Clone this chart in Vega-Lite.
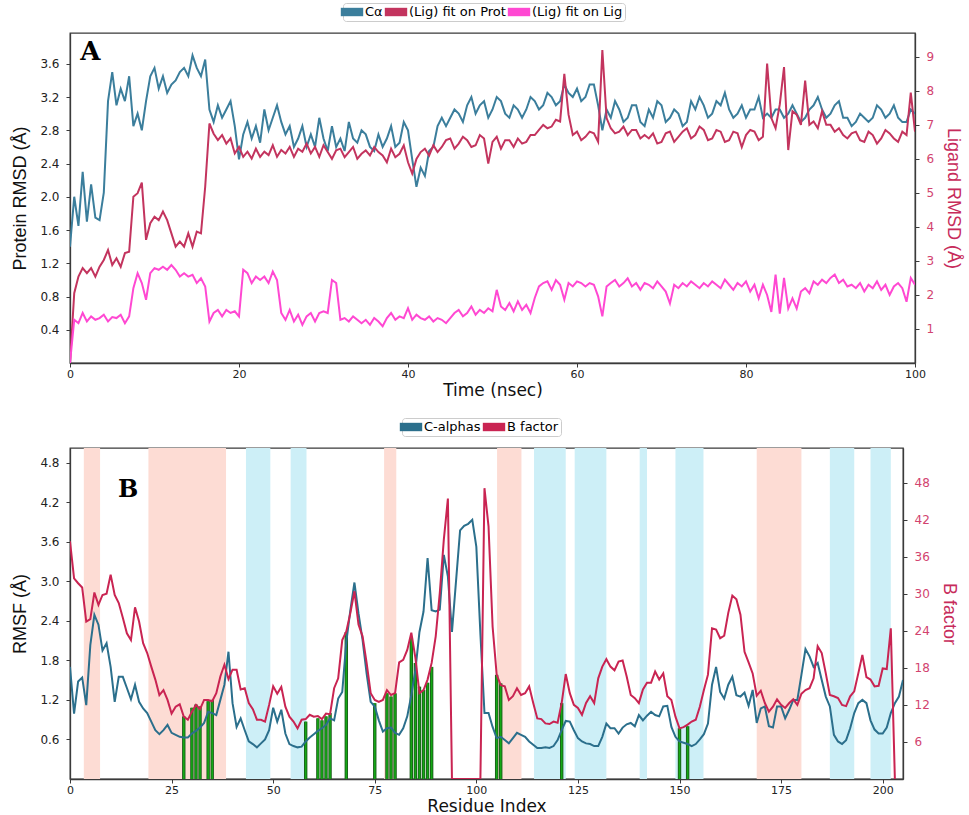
{
  "$schema": "https://vega.github.io/schema/vega-lite/v6.json",
  "background": "white",
  "padding": {"left": 11, "top": 1, "right": 5, "bottom": 0},
  "datasets": {
    "rmsd": [
      {"t":0,"ca":1.4,"lp":0,"ll":0},{"t":0.5,"ca":2.0,"lp":2.05,"ll":1.27},{"t":1,"ca":1.65,"lp":2.54,"ll":1.17},{"t":1.5,"ca":2.3,"lp":2.79,"ll":1.47},
      {"t":2,"ca":1.7,"lp":2.64,"ll":1.22},{"t":2.5,"ca":2.15,"lp":2.79,"ll":1.37},{"t":3,"ca":1.75,"lp":2.54,"ll":1.27},{"t":3.5,"ca":1.72,"lp":2.83,"ll":1.32},
      {"t":4,"ca":2.05,"lp":3.03,"ll":1.42},{"t":4.5,"ca":3.15,"lp":3.32,"ll":1.22},{"t":5,"ca":3.5,"lp":2.88,"ll":1.35},{"t":5.5,"ca":3.1,"lp":3.08,"ll":1.32},
      {"t":6,"ca":3.3,"lp":2.83,"ll":1.42},{"t":6.5,"ca":3.15,"lp":3.23,"ll":1.17},{"t":7,"ca":3.45,"lp":3.27,"ll":1.37},{"t":7.5,"ca":2.85,"lp":4.89,"ll":2.2},
      {"t":8,"ca":3.0,"lp":4.99,"ll":2.64},{"t":8.5,"ca":2.8,"lp":5.3,"ll":2.35},{"t":9,"ca":3.15,"lp":3.62,"ll":1.86},{"t":9.5,"ca":3.45,"lp":4.11,"ll":2.64},
      {"t":10,"ca":3.55,"lp":4.3,"ll":2.79},{"t":10.5,"ca":3.3,"lp":4.2,"ll":2.74},{"t":11,"ca":3.45,"lp":4.45,"ll":2.83},{"t":11.5,"ca":3.25,"lp":4.2,"ll":2.74},
      {"t":12,"ca":3.35,"lp":3.81,"ll":2.88},{"t":12.5,"ca":3.4,"lp":3.42,"ll":2.74},{"t":13,"ca":3.5,"lp":3.57,"ll":2.54},{"t":13.5,"ca":3.55,"lp":3.42,"ll":2.64},
      {"t":14,"ca":3.45,"lp":3.81,"ll":2.54},{"t":14.5,"ca":3.7,"lp":3.42,"ll":2.59},{"t":15,"ca":3.55,"lp":3.86,"ll":2.35},{"t":15.5,"ca":3.45,"lp":3.81,"ll":2.49},
      {"t":16,"ca":3.65,"lp":5.18,"ll":2.25},{"t":16.5,"ca":3.05,"lp":7.04,"ll":1.22},{"t":17,"ca":2.9,"lp":6.74,"ll":1.47},{"t":17.5,"ca":3.1,"lp":6.55,"ll":1.56},
      {"t":18,"ca":2.95,"lp":6.7,"ll":1.37},{"t":18.5,"ca":3.05,"lp":6.45,"ll":1.56},{"t":19,"ca":3.15,"lp":6.6,"ll":1.47},{"t":19.5,"ca":2.85,"lp":6.16,"ll":1.52},
      {"t":20,"ca":2.45,"lp":6.35,"ll":1.37},{"t":20.5,"ca":2.75,"lp":6.06,"ll":2.74},{"t":21,"ca":2.9,"lp":6.21,"ll":2.64},{"t":21.5,"ca":2.7,"lp":6.01,"ll":2.35},
      {"t":22,"ca":2.85,"lp":6.3,"ll":2.54},{"t":22.5,"ca":2.65,"lp":6.06,"ll":2.44},{"t":23,"ca":3.05,"lp":6.21,"ll":2.54},{"t":23.5,"ca":2.8,"lp":6.11,"ll":2.35},
      {"t":24,"ca":2.95,"lp":6.4,"ll":2.69},{"t":24.5,"ca":3.1,"lp":6.06,"ll":2.44},{"t":25,"ca":2.9,"lp":6.26,"ll":1.47},{"t":25.5,"ca":2.75,"lp":6.16,"ll":1.27},
      {"t":26,"ca":2.85,"lp":6.35,"ll":1.56},{"t":26.5,"ca":2.6,"lp":6.06,"ll":1.22},{"t":27,"ca":2.7,"lp":6.3,"ll":1.42},{"t":27.5,"ca":2.85,"lp":6.21,"ll":1.12},
      {"t":28,"ca":2.6,"lp":6.45,"ll":1.37},{"t":28.5,"ca":2.75,"lp":6.16,"ll":1.47},{"t":29,"ca":2.6,"lp":6.35,"ll":1.22},{"t":29.5,"ca":2.95,"lp":6.06,"ll":1.47},
      {"t":30,"ca":2.7,"lp":6.4,"ll":1.52},{"t":30.5,"ca":2.55,"lp":6.2,"ll":1.47},{"t":31,"ca":2.85,"lp":6.0,"ll":2.44},{"t":31.5,"ca":2.6,"lp":6.25,"ll":2.35},
      {"t":32,"ca":2.7,"lp":6.3,"ll":1.27},{"t":32.5,"ca":2.55,"lp":6.05,"ll":1.32},{"t":33,"ca":2.9,"lp":6.2,"ll":1.22},{"t":33.5,"ca":2.7,"lp":6.35,"ll":1.37},
      {"t":34,"ca":2.65,"lp":6.0,"ll":1.27},{"t":34.5,"ca":2.8,"lp":6.15,"ll":1.17},{"t":35,"ca":2.75,"lp":6.25,"ll":1.27},{"t":35.5,"ca":2.6,"lp":6.1,"ll":1.12},
      {"t":36,"ca":2.55,"lp":6.35,"ll":1.32},{"t":36.5,"ca":2.75,"lp":6.2,"ll":1.22},{"t":37,"ca":2.6,"lp":6.1,"ll":1.08},{"t":37.5,"ca":2.7,"lp":5.9,"ll":1.32},
      {"t":38,"ca":2.85,"lp":6.3,"ll":1.47},{"t":38.5,"ca":2.6,"lp":6.05,"ll":1.27},{"t":39,"ca":2.65,"lp":6.15,"ll":1.37},{"t":39.5,"ca":2.9,"lp":6.4,"ll":1.32},
      {"t":40,"ca":2.8,"lp":5.9,"ll":1.61},{"t":40.5,"ca":2.45,"lp":5.57,"ll":1.27},{"t":41,"ca":2.12,"lp":6.0,"ll":1.42},{"t":41.5,"ca":2.35,"lp":6.2,"ll":1.32},
      {"t":42,"ca":2.25,"lp":6.3,"ll":1.27},{"t":42.5,"ca":2.55,"lp":6.1,"ll":1.37},{"t":43,"ca":2.6,"lp":6.4,"ll":1.22},{"t":43.5,"ca":2.85,"lp":6.2,"ll":1.32},
      {"t":44,"ca":2.95,"lp":6.35,"ll":1.27},{"t":44.5,"ca":2.85,"lp":6.55,"ll":1.17},{"t":45,"ca":2.95,"lp":6.6,"ll":1.32},{"t":45.5,"ca":3.05,"lp":6.3,"ll":1.47},
      {"t":46,"ca":3.0,"lp":6.45,"ll":1.56},{"t":46.5,"ca":2.9,"lp":6.65,"ll":1.37},{"t":47,"ca":3.1,"lp":6.55,"ll":1.47},{"t":47.5,"ca":3.2,"lp":6.35,"ll":1.66},
      {"t":48,"ca":3.0,"lp":6.4,"ll":1.42},{"t":48.5,"ca":3.1,"lp":6.7,"ll":1.56},{"t":49,"ca":3.15,"lp":6.6,"ll":1.47},{"t":49.5,"ca":2.95,"lp":5.86,"ll":1.61},
      {"t":50,"ca":3.05,"lp":6.5,"ll":1.52},{"t":50.5,"ca":3.2,"lp":6.65,"ll":2.15},{"t":51,"ca":3.15,"lp":6.3,"ll":1.66},{"t":51.5,"ca":3.0,"lp":6.55,"ll":1.56},
      {"t":52,"ca":2.95,"lp":6.55,"ll":1.76},{"t":52.5,"ca":3.1,"lp":6.35,"ll":1.52},{"t":53,"ca":3.05,"lp":6.6,"ll":1.81},{"t":53.5,"ca":2.95,"lp":6.45,"ll":1.56},
      {"t":54,"ca":3.05,"lp":6.5,"ll":1.71},{"t":54.5,"ca":3.2,"lp":6.7,"ll":1.47},{"t":55,"ca":3.15,"lp":6.7,"ll":1.91},{"t":55.5,"ca":3.05,"lp":6.85,"ll":2.25},
      {"t":56,"ca":3.1,"lp":7.0,"ll":2.35},{"t":56.5,"ca":3.25,"lp":6.9,"ll":2.4},{"t":57,"ca":3.2,"lp":6.95,"ll":2.15},{"t":57.5,"ca":3.1,"lp":7.15,"ll":2.44},
      {"t":58,"ca":3.15,"lp":7.1,"ll":2.3},{"t":58.5,"ca":3.35,"lp":8.5,"ll":1.86},{"t":59,"ca":3.25,"lp":7.3,"ll":2.35},{"t":59.5,"ca":3.2,"lp":6.7,"ll":2.25},
      {"t":60,"ca":3.3,"lp":6.8,"ll":2.4},{"t":60.5,"ca":3.15,"lp":6.55,"ll":2.35},{"t":61,"ca":3.2,"lp":6.65,"ll":2.25},{"t":61.5,"ca":3.35,"lp":6.8,"ll":2.35},
      {"t":62,"ca":3.35,"lp":6.75,"ll":2.3},{"t":62.5,"ca":3.1,"lp":6.5,"ll":1.96},{"t":63,"ca":2.8,"lp":9.2,"ll":1.37},{"t":63.5,"ca":3.05,"lp":7.2,"ll":2.25},
      {"t":64,"ca":2.95,"lp":6.9,"ll":2.35},{"t":64.5,"ca":3.15,"lp":6.75,"ll":2.44},{"t":65,"ca":3.05,"lp":6.8,"ll":2.25},{"t":65.5,"ca":2.9,"lp":6.95,"ll":2.35},
      {"t":66,"ca":2.95,"lp":6.7,"ll":2.49},{"t":66.5,"ca":3.1,"lp":6.85,"ll":2.25},{"t":67,"ca":3.1,"lp":6.85,"ll":2.35},{"t":67.5,"ca":2.9,"lp":6.6,"ll":2.15},
      {"t":68,"ca":2.85,"lp":6.7,"ll":2.35},{"t":68.5,"ca":3.05,"lp":6.6,"ll":2.3},{"t":69,"ca":2.95,"lp":6.75,"ll":2.2},{"t":69.5,"ca":3.15,"lp":6.45,"ll":2.4},
      {"t":70,"ca":3.1,"lp":6.5,"ll":2.25},{"t":70.5,"ca":2.9,"lp":6.75,"ll":2.1},{"t":71,"ca":2.95,"lp":6.8,"ll":1.75},{"t":71.5,"ca":3.05,"lp":6.5,"ll":2.3},
      {"t":72,"ca":3.0,"lp":6.65,"ll":2.2},{"t":72.5,"ca":2.85,"lp":6.8,"ll":2.35},{"t":73,"ca":2.9,"lp":6.9,"ll":2.25},{"t":73.5,"ca":3.15,"lp":6.6,"ll":2.4},
      {"t":74,"ca":3.05,"lp":6.7,"ll":2.3},{"t":74.5,"ca":3.2,"lp":6.95,"ll":2.2},{"t":75,"ca":3.1,"lp":6.85,"ll":2.35},{"t":75.5,"ca":2.95,"lp":6.55,"ll":2.25},
      {"t":76,"ca":3.0,"lp":6.6,"ll":2.4},{"t":76.5,"ca":3.15,"lp":6.85,"ll":2.3},{"t":77,"ca":3.1,"lp":6.8,"ll":2.2},{"t":77.5,"ca":3.25,"lp":6.5,"ll":2.45},
      {"t":78,"ca":3.05,"lp":6.55,"ll":2.3},{"t":78.5,"ca":2.95,"lp":6.8,"ll":2.15},{"t":79,"ca":3.0,"lp":6.75,"ll":2.35},{"t":79.5,"ca":3.1,"lp":6.35,"ll":2.25},
      {"t":80,"ca":2.95,"lp":6.7,"ll":2.4},{"t":80.5,"ca":3.05,"lp":6.85,"ll":2.1},{"t":81,"ca":3.05,"lp":6.8,"ll":2.3},{"t":81.5,"ca":3.2,"lp":6.55,"ll":1.9},
      {"t":82,"ca":2.95,"lp":6.65,"ll":2.3},{"t":82.5,"ca":3.0,"lp":8.8,"ll":2.0},{"t":83,"ca":2.95,"lp":7.2,"ll":1.5},{"t":83.5,"ca":3.05,"lp":6.9,"ll":2.6},
      {"t":84,"ca":3.05,"lp":7.6,"ll":1.45},{"t":84.5,"ca":2.95,"lp":8.7,"ll":2.5},{"t":85,"ca":3.0,"lp":6.26,"ll":1.6},{"t":85.5,"ca":3.1,"lp":7.4,"ll":1.9},
      {"t":86,"ca":3.0,"lp":7.3,"ll":1.6},{"t":86.5,"ca":2.9,"lp":7.0,"ll":2.1},{"t":87,"ca":2.95,"lp":8.3,"ll":2.2},{"t":87.5,"ca":3.05,"lp":7.0,"ll":2.05},
      {"t":88,"ca":3.1,"lp":7.1,"ll":2.4},{"t":88.5,"ca":3.2,"lp":6.9,"ll":2.3},{"t":89,"ca":3.05,"lp":7.4,"ll":2.45},{"t":89.5,"ca":2.95,"lp":7.0,"ll":2.35},
      {"t":90,"ca":3.0,"lp":7.0,"ll":2.5},{"t":90.5,"ca":3.1,"lp":6.8,"ll":2.6},{"t":91,"ca":3.15,"lp":6.9,"ll":2.35},{"t":91.5,"ca":2.95,"lp":6.7,"ll":2.45},
      {"t":92,"ca":2.95,"lp":6.6,"ll":2.25},{"t":92.5,"ca":2.85,"lp":6.75,"ll":2.3},{"t":93,"ca":2.9,"lp":6.8,"ll":2.2},{"t":93.5,"ca":3.0,"lp":6.55,"ll":2.35},
      {"t":94,"ca":2.95,"lp":6.5,"ll":2.1},{"t":94.5,"ca":2.9,"lp":6.8,"ll":2.3},{"t":95,"ca":2.95,"lp":6.7,"ll":2.2},{"t":95.5,"ca":3.1,"lp":6.45,"ll":2.4},
      {"t":96,"ca":3.05,"lp":6.6,"ll":2.15},{"t":96.5,"ca":2.95,"lp":6.85,"ll":2.3},{"t":97,"ca":3.0,"lp":6.75,"ll":2.0},{"t":97.5,"ca":3.1,"lp":6.6,"ll":2.25},
      {"t":98,"ca":2.95,"lp":6.5,"ll":2.35},{"t":98.5,"ca":2.9,"lp":6.8,"ll":2.2},{"t":99,"ca":2.9,"lp":6.7,"ll":1.8},{"t":99.5,"ca":3.05,"lp":7.95,"ll":2.5},
      {"t":100,"ca":3.0,"lp":6.8,"ll":2.3}
    ],
    "rmsf": [
      {"r":0,"ca":1.70,"bf":38.5},{"r":1,"ca":0.99,"bf":32.5},{"r":2,"ca":1.48,"bf":31.7},{"r":3,"ca":1.54,"bf":31.0},{"r":4,"ca":1.12,"bf":25.5},
      {"r":5,"ca":2.03,"bf":25.9},{"r":6,"ca":2.49,"bf":30.2},{"r":7,"ca":2.34,"bf":28.2},{"r":8,"ca":1.95,"bf":29.8},{"r":9,"ca":2.06,"bf":30.0},
      {"r":10,"ca":1.70,"bf":33.1},{"r":11,"ca":1.17,"bf":29.8},{"r":12,"ca":1.55,"bf":28.5},{"r":13,"ca":1.55,"bf":26.1},{"r":14,"ca":1.38,"bf":23.6},
      {"r":15,"ca":1.21,"bf":22.5},{"r":16,"ca":1.43,"bf":27.8},{"r":17,"ca":1.17,"bf":25.5},{"r":18,"ca":1.07,"bf":22.0},{"r":19,"ca":1.00,"bf":20.4},
      {"r":20,"ca":0.87,"bf":18.2},{"r":21,"ca":0.74,"bf":16.1},{"r":22,"ca":0.68,"bf":13.6},{"r":23,"ca":0.74,"bf":14.4},{"r":24,"ca":0.82,"bf":12.8},
      {"r":25,"ca":0.70,"bf":10.6},{"r":26,"ca":0.67,"bf":11.7},{"r":27,"ca":0.64,"bf":12.1},{"r":28,"ca":0.63,"bf":10.1},{"r":29,"ca":0.63,"bf":9.6},
      {"r":30,"ca":0.69,"bf":10.9},{"r":31,"ca":0.73,"bf":12.0},{"r":32,"ca":0.78,"bf":11.3},{"r":33,"ca":0.85,"bf":12.8},{"r":34,"ca":1.02,"bf":12.8},
      {"r":35,"ca":1.00,"bf":12.6},{"r":36,"ca":0.97,"bf":13.9},{"r":37,"ca":1.20,"bf":16.6},{"r":38,"ca":1.43,"bf":18.5},{"r":39,"ca":1.93,"bf":16.2},
      {"r":40,"ca":1.15,"bf":17.7},{"r":41,"ca":0.79,"bf":17.7},{"r":42,"ca":0.92,"bf":14.5},{"r":43,"ca":0.74,"bf":14.7},{"r":44,"ca":0.57,"bf":12.3},
      {"r":45,"ca":0.53,"bf":11.3},{"r":46,"ca":0.48,"bf":9.6},{"r":47,"ca":0.54,"bf":9.6},{"r":48,"ca":0.60,"bf":9.3},{"r":49,"ca":0.74,"bf":12.0},
      {"r":50,"ca":1.08,"bf":15.0},{"r":51,"ca":0.87,"bf":13.8},{"r":52,"ca":1.05,"bf":14.9},{"r":53,"ca":0.69,"bf":11.7},{"r":54,"ca":0.53,"bf":10.1},
      {"r":55,"ca":0.50,"bf":9.3},{"r":56,"ca":0.48,"bf":8.2},{"r":57,"ca":0.49,"bf":9.6},{"r":58,"ca":0.57,"bf":9.7},{"r":59,"ca":0.63,"bf":10.4},
      {"r":60,"ca":0.68,"bf":10.1},{"r":61,"ca":0.73,"bf":10.2},{"r":62,"ca":0.77,"bf":9.7},{"r":63,"ca":0.82,"bf":10.6},{"r":64,"ca":0.92,"bf":10.5},
      {"r":65,"ca":0.89,"bf":14.7},{"r":66,"ca":1.22,"bf":16.3},{"r":67,"ca":1.32,"bf":22.5},{"r":68,"ca":2.08,"bf":23.9},{"r":69,"ca":2.56,"bf":26.9},
      {"r":70,"ca":2.98,"bf":30.4},{"r":71,"ca":2.51,"bf":25.0},{"r":72,"ca":2.11,"bf":23.1},{"r":73,"ca":1.60,"bf":18.8},{"r":74,"ca":1.17,"bf":13.9},
      {"r":75,"ca":1.10,"bf":12.8},{"r":76,"ca":0.89,"bf":12.5},{"r":77,"ca":0.72,"bf":12.8},{"r":78,"ca":0.77,"bf":14.4},{"r":79,"ca":0.78,"bf":13.6},
      {"r":80,"ca":0.70,"bf":13.9},{"r":81,"ca":0.67,"bf":18.9},{"r":82,"ca":0.77,"bf":19.3},{"r":83,"ca":0.95,"bf":20.9},{"r":84,"ca":1.27,"bf":23.7},
      {"r":85,"ca":1.65,"bf":19.6},{"r":86,"ca":2.23,"bf":13.9},{"r":87,"ca":2.54,"bf":14.4},{"r":88,"ca":3.35,"bf":16.1},{"r":89,"ca":2.56,"bf":18.8},
      {"r":90,"ca":2.54,"bf":23.1},{"r":91,"ca":2.57,"bf":30.1},{"r":92,"ca":3.40,"bf":38.8},{"r":93,"ca":3.07,"bf":45.4},{"r":94,"ca":2.23,"bf":0},
      {"r":95,"ca":3.0,"bf":0},{"r":96,"ca":3.77,"bf":0},{"r":97,"ca":3.84,"bf":0},{"r":98,"ca":3.87,"bf":0},{"r":99,"ca":3.93,"bf":0},
      {"r":100,"ca":3.52,"bf":0},{"r":101,"ca":2.2,"bf":0},{"r":102,"ca":1.0,"bf":47.1},{"r":103,"ca":1.0,"bf":40.9},{"r":104,"ca":0.79,"bf":24.7},
      {"r":105,"ca":0.62,"bf":16.9},{"r":106,"ca":0.64,"bf":15.2},{"r":107,"ca":0.59,"bf":15.0},{"r":108,"ca":0.54,"bf":12.8},{"r":109,"ca":0.62,"bf":13.4},
      {"r":110,"ca":0.70,"bf":14.7},{"r":111,"ca":0.67,"bf":13.6},{"r":112,"ca":0.64,"bf":13.9},{"r":113,"ca":0.57,"bf":15.0},{"r":114,"ca":0.52,"bf":12.3},
      {"r":115,"ca":0.47,"bf":9.8},{"r":116,"ca":0.47,"bf":9.7},{"r":117,"ca":0.48,"bf":9.0},{"r":118,"ca":0.47,"bf":8.9},{"r":119,"ca":0.50,"bf":9.3},
      {"r":120,"ca":0.59,"bf":9.1},{"r":121,"ca":0.74,"bf":12.3},{"r":122,"ca":0.88,"bf":17.0},{"r":123,"ca":0.87,"bf":13.9},{"r":124,"ca":0.74,"bf":12.0},
      {"r":125,"ca":0.62,"bf":11.5},{"r":126,"ca":0.57,"bf":10.4},{"r":127,"ca":0.54,"bf":12.3},{"r":128,"ca":0.53,"bf":13.4},{"r":129,"ca":0.50,"bf":12.3},
      {"r":130,"ca":0.50,"bf":16.3},{"r":131,"ca":0.64,"bf":18.2},{"r":132,"ca":0.84,"bf":19.4},{"r":133,"ca":0.77,"bf":18.2},{"r":134,"ca":0.77,"bf":17.6},
      {"r":135,"ca":0.69,"bf":19.0},{"r":136,"ca":0.78,"bf":19.2},{"r":137,"ca":0.83,"bf":16.6},{"r":138,"ca":0.85,"bf":13.6},{"r":139,"ca":0.80,"bf":13.1},
      {"r":140,"ca":0.97,"bf":12.3},{"r":141,"ca":0.89,"bf":14.5},{"r":142,"ca":0.96,"bf":15.6},{"r":143,"ca":1.02,"bf":15.6},{"r":144,"ca":0.97,"bf":17.4},
      {"r":145,"ca":0.95,"bf":16.1},{"r":146,"ca":1.10,"bf":17.1},{"r":147,"ca":1.11,"bf":13.4},{"r":148,"ca":0.79,"bf":12.8},{"r":149,"ca":0.64,"bf":10.1},
      {"r":150,"ca":0.57,"bf":8.2},{"r":151,"ca":0.55,"bf":8.4},{"r":152,"ca":0.53,"bf":8.8},{"r":153,"ca":0.50,"bf":9.3},{"r":154,"ca":0.53,"bf":9.6},
      {"r":155,"ca":0.60,"bf":11.7},{"r":156,"ca":0.68,"bf":14.4},{"r":157,"ca":0.84,"bf":16.9},{"r":158,"ca":1.43,"bf":24.4},{"r":159,"ca":1.70,"bf":24.2},
      {"r":160,"ca":1.32,"bf":22.8},{"r":161,"ca":1.22,"bf":23.2},{"r":162,"ca":1.43,"bf":26.9},{"r":163,"ca":1.55,"bf":29.7},{"r":164,"ca":1.27,"bf":29.1},
      {"r":165,"ca":1.25,"bf":26.6},{"r":166,"ca":1.31,"bf":20.6},{"r":167,"ca":1.11,"bf":18.9},{"r":168,"ca":1.35,"bf":17.1},{"r":169,"ca":0.85,"bf":13.5},
      {"r":170,"ca":1.07,"bf":14.3},{"r":171,"ca":1.10,"bf":12.3},{"r":172,"ca":0.80,"bf":10.9},{"r":173,"ca":0.78,"bf":11.7},{"r":174,"ca":1.10,"bf":12.9},
      {"r":175,"ca":1.10,"bf":12.0},{"r":176,"ca":0.92,"bf":11.5},{"r":177,"ca":1.05,"bf":12.3},{"r":178,"ca":1.20,"bf":12.9},{"r":179,"ca":1.20,"bf":12.0},
      {"r":180,"ca":1.58,"bf":13.8},{"r":181,"ca":1.97,"bf":14.4},{"r":182,"ca":1.86,"bf":14.7},{"r":183,"ca":1.70,"bf":16.3},{"r":184,"ca":1.76,"bf":21.5},
      {"r":185,"ca":1.50,"bf":20.4},{"r":186,"ca":1.25,"bf":17.1},{"r":187,"ca":1.10,"bf":13.6},{"r":188,"ca":0.67,"bf":13.4},{"r":189,"ca":0.57,"bf":13.1},
      {"r":190,"ca":0.53,"bf":12.0},{"r":191,"ca":0.59,"bf":11.8},{"r":192,"ca":0.77,"bf":13.4},{"r":193,"ca":1.00,"bf":14.2},{"r":194,"ca":1.15,"bf":17.1},
      {"r":195,"ca":1.20,"bf":20.1},{"r":196,"ca":1.15,"bf":16.5},{"r":197,"ca":0.89,"bf":16.1},{"r":198,"ca":0.75,"bf":15.0},{"r":199,"ca":0.69,"bf":15.1},
      {"r":200,"ca":0.69,"bf":17.9},{"r":201,"ca":0.78,"bf":17.8},{"r":202,"ca":1.00,"bf":24.4},{"r":203,"ca":1.15,"bf":0},{"r":204,"ca":1.25,"bf":null},
      {"r":205,"ca":1.50,"bf":null}
    ],
    "ss": [
      {"start":3.4,"end":7.4,"ss":"helix"},{"start":19.3,"end":38.4,"ss":"helix"},{"start":77.3,"end":80.3,"ss":"helix"},
      {"start":105.1,"end":111.1,"ss":"helix"},{"start":169,"end":180,"ss":"helix"},
      {"start":43.3,"end":49.3,"ss":"strand"},{"start":54.3,"end":58.2,"ss":"strand"},{"start":114.2,"end":122,"ss":"strand"},
      {"start":124.2,"end":132,"ss":"strand"},{"start":140.2,"end":142,"ss":"strand"},{"start":149,"end":155.9,"ss":"strand"},
      {"start":187,"end":193,"ss":"strand"},{"start":197,"end":202,"ss":"strand"}
    ],
    "contacts": [
      {"r":28,"top":0.95},{"r":30,"top":1.08},{"r":31,"top":1.13},{"r":32,"top":1.1},{"r":34,"top":1.18},{"r":35,"top":1.2},
      {"r":58,"top":0.87},{"r":61,"top":0.92},{"r":62,"top":0.89},{"r":63,"top":0.95},{"r":64,"top":1.0},{"r":68,"top":2.23},
      {"r":75,"top":1.15},{"r":78,"top":1.3},{"r":79,"top":1.25},{"r":80,"top":1.3},{"r":84,"top":2.14},{"r":85,"top":1.76},
      {"r":86,"top":1.4},{"r":87,"top":1.35},{"r":88,"top":1.46},{"r":89,"top":1.7},{"r":105,"top":1.58},{"r":106,"top":1.45},
      {"r":121,"top":1.15},{"r":150,"top":0.77},{"r":152,"top":0.8}
    ]
  },
  "vconcat": [
    {
      "width": 845,
      "height": 330,
      "layer": [
        {
          "layer": [
            {
              "data": {"name": "rmsd"},
              "mark": {"type": "line", "strokeWidth": 2, "clip": true},
              "encoding": {
                "x": {"field": "t", "type": "quantitative", "scale": {"domain": [0, 100], "nice": false},
                      "axis": {"title": "Time (nsec)", "values": [0, 20, 40, 60, 80, 100]}},
                "y": {"field": "ca", "type": "quantitative", "scale": {"domain": [0, 3.97], "nice": false},
                      "axis": {"title": "Protein RMSD (Å)", "values": [0.4, 0.8, 1.2, 1.6, 2.0, 2.4, 2.8, 3.2, 3.6], "format": ".1f"}},
                "color": {"datum": "Cα",
                          "scale": {"domain": ["Cα", "(Lig) fit on Prot", "(Lig) fit on Lig"], "range": ["#3b7e9c", "#c3345e", "#ff48d2"]},
                          "legend": {"legendX": 273, "legendY": -30,
                                     "symbolType": "M-1.6,-0.6H1.6V0.6H-1.6Z", "symbolSize": 196,
                                     "encode": {"symbols": {"update": {
                                       "fill": {"signal": "datum.value === 'Cα' ? '#3b7e9c' : datum.value === '(Lig) fit on Prot' ? '#c3345e' : '#ff48d2'"},
                                       "stroke": {"value": "transparent"}, "strokeWidth": {"value": 0}, "opacity": {"value": 1}}}}}}
              }
            },
            {
              "data": {"values": [{"label": "A"}]},
              "mark": {"type": "text", "font": "DejaVu Serif", "fontWeight": "bold", "fontSize": 26, "align": "left", "baseline": "alphabetic", "color": "black"},
              "encoding": {
                "x": {"datum": 1.2, "type": "quantitative"},
                "y": {"datum": 3.64, "type": "quantitative"},
                "text": {"field": "label"}
              }
            }
          ]
        },
        {
          "data": {"name": "rmsd"},
          "layer": [
            {
              "mark": {"type": "line", "strokeWidth": 2, "clip": true},
              "encoding": {
                "x": {"field": "t", "type": "quantitative"},
                "y": {"field": "lp", "type": "quantitative", "scale": {"domain": [0, 9.7], "nice": false},
                      "axis": {"orient": "right", "title": "Ligand RMSD (Å)", "values": [1, 2, 3, 4, 5, 6, 7, 8, 9],
                               "labelColor": "#d2436f", "titleColor": "#c72b5b"}},
                "color": {"datum": "(Lig) fit on Prot"}
              }
            },
            {
              "mark": {"type": "line", "strokeWidth": 2, "clip": true},
              "encoding": {
                "x": {"field": "t", "type": "quantitative"},
                "y": {"field": "ll", "type": "quantitative"},
                "color": {"datum": "(Lig) fit on Lig"}
              }
            }
          ]
        }
      ],
      "resolve": {"scale": {"y": "independent"}}
    },
    {
      "width": 833,
      "height": 331,
      "layer": [
        {
          "layer": [
            {
              "data": {"name": "ss"},
              "mark": {"type": "rect", "opacity": 1},
              "encoding": {
                "x": {"field": "start", "type": "quantitative", "scale": {"domain": [0, 205], "nice": false},
                      "axis": {"title": "Residue Index", "values": [0, 25, 50, 75, 100, 125, 150, 175, 200]}},
                "x2": {"field": "end"},
                "fill": {"field": "ss", "type": "nominal", "scale": {"domain": ["helix", "strand"], "range": ["#fddcd4", "#cdeff7"]}, "legend": null}
              }
            },
            {
              "data": {"name": "contacts"},
              "mark": {"type": "rule", "strokeWidth": 3.4, "color": "#1b5e1b"},
              "encoding": {
                "x": {"field": "r", "type": "quantitative"},
                "y": {"field": "top", "type": "quantitative"},
                "y2": {"datum": 0}
              }
            },
            {
              "data": {"name": "contacts"},
              "mark": {"type": "rule", "strokeWidth": 1.6, "color": "#14a814"},
              "encoding": {
                "x": {"field": "r", "type": "quantitative"},
                "y": {"field": "top", "type": "quantitative"},
                "y2": {"datum": 0}
              }
            },
            {
              "data": {"name": "rmsf"},
              "mark": {"type": "line", "strokeWidth": 2, "clip": true},
              "encoding": {
                "x": {"field": "r", "type": "quantitative"},
                "y": {"field": "ca", "type": "quantitative", "scale": {"domain": [0, 5.02], "nice": false},
                      "axis": {"title": "RMSF (Å)", "values": [0.6, 1.2, 1.8, 2.4, 3.0, 3.6, 4.2, 4.8], "format": ".1f"}},
                "color": {"datum": "C-alphas",
                          "scale": {"domain": ["C-alphas", "B factor"], "range": ["#2b6f8c", "#c92452"]},
                          "legend": {"legendX": 332, "legendY": -30,
                                     "symbolType": "M-1.6,-0.6H1.6V0.6H-1.6Z", "symbolSize": 196,
                                     "encode": {"symbols": {"update": {
                                       "fill": {"signal": "datum.value === 'C-alphas' ? '#2b6f8c' : '#c92452'"},
                                       "stroke": {"value": "transparent"}, "strokeWidth": {"value": 0}, "opacity": {"value": 1}}}}}}
              }
            },
            {
              "data": {"values": [{"label": "B"}]},
              "mark": {"type": "text", "font": "DejaVu Serif", "fontWeight": "bold", "fontSize": 24, "align": "left", "baseline": "alphabetic", "color": "black"},
              "encoding": {
                "x": {"datum": 11.8, "type": "quantitative"},
                "y": {"datum": 4.28, "type": "quantitative"},
                "text": {"field": "label"}
              }
            }
          ]
        },
        {
          "data": {"name": "rmsf"},
          "mark": {"type": "line", "strokeWidth": 2, "clip": true},
          "encoding": {
            "x": {"field": "r", "type": "quantitative"},
            "y": {"field": "bf", "type": "quantitative", "scale": {"domain": [0, 53.6], "nice": false},
                  "axis": {"orient": "right", "title": "B factor", "values": [6, 12, 18, 24, 30, 36, 42, 48],
                           "labelColor": "#d2436f", "titleColor": "#c72b5b"}},
            "color": {"datum": "B factor"}
          }
        }
      ],
      "resolve": {"scale": {"y": "independent"}}
    }
  ],
  "spacing": 85,
  "bounds": "flush",
  "resolve": {"scale": {"color": "independent"}, "legend": {"color": "independent"}},
  "config": {
    "font": "DejaVu Sans",
    "view": {"stroke": "#3a3a3a", "strokeWidth": 1.3},
    "axis": {
      "grid": false, "domainColor": "#3a3a3a", "domainWidth": 1.3, "tickColor": "#3a3a3a", "tickSize": 4,
      "labelFont": "DejaVu Sans", "labelFontSize": 12, "labelColor": "#222222", "labelPadding": 7,
      "titleFontWeight": "normal", "titleColor": "#111111"
    },
    "axisX": {"titleFont": "DejaVu Sans", "titleFontSize": 17, "titlePadding": 3, "labelFontSize": 11, "labelPadding": 1, "labelAngle": 0, "labelFlush": false},
    "axisY": {"titleFont": "Liberation Sans", "titleFontSize": 18, "titlePadding": 10},
    "legend": {
      "orient": "none", "direction": "horizontal", "title": null,
      "labelFont": "DejaVu Sans", "labelFontSize": 13, "labelOffset": 6, "columnPadding": 1,
      "padding": 2, "strokeColor": "#cccccc", "fillColor": "white", "cornerRadius": 3
    }
  }
}
